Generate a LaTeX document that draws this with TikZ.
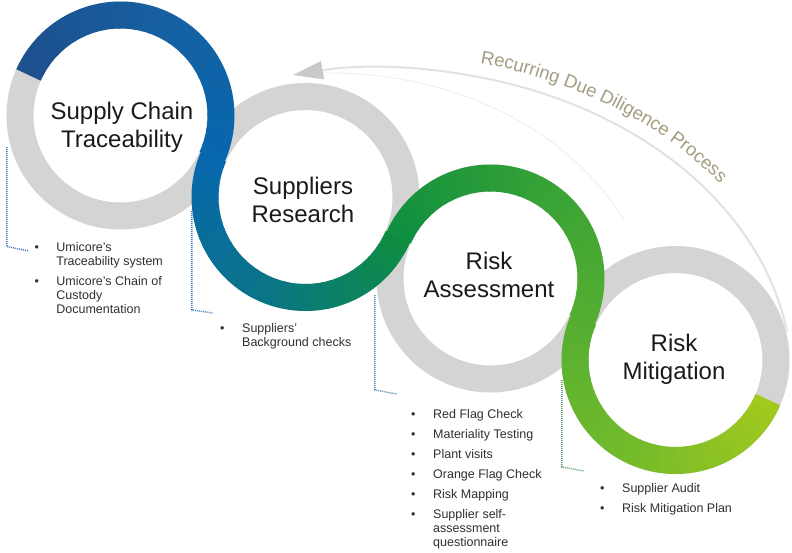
\documentclass[tikz,border=0pt]{standalone}
\usepackage{fontspec}
\setmainfont{Liberation Sans}
\usetikzlibrary{calc,decorations.text,arrows.meta}
\definecolor{ringgray}{HTML}{D4D4D4}
\definecolor{titlecol}{HTML}{1A1A1A}
\definecolor{listcol}{HTML}{303030}
\definecolor{rectext}{HTML}{A39D82}
\definecolor{faintA}{HTML}{E2E2E2}
\definecolor{faintB}{HTML}{EFEFEF}
\definecolor{arrowgray}{HTML}{C9C9C9}
\definecolor{connA}{HTML}{3F7BB8}
\definecolor{connB}{HTML}{3F7BB8}
\definecolor{connC}{HTML}{4F88AE}
\definecolor{connD}{HTML}{5F9A70}
\definecolor{q0}{HTML}{1D4F8C}
\definecolor{q1}{HTML}{1660A2}
\definecolor{q2}{HTML}{0867AE}
\definecolor{q3}{HTML}{0A7488}
\definecolor{q4}{HTML}{0E8E40}
\definecolor{q5}{HTML}{34A136}
\definecolor{q6}{HTML}{55AE31}
\definecolor{q7}{HTML}{74BB2B}
\definecolor{q8}{HTML}{A3C91E}
\newcommand\recfont{\fontsize{18.5}{20}\selectfont}
\begin{document}
\begin{tikzpicture}[x=1pt,y=-1pt,
  grayring/.style={draw=ringgray,line width=27pt},
  snakeseg/.style={line width=27pt},
  title/.style={font=\fontsize{24}{28}\selectfont, text=titlecol, align=center, anchor=north, inner sep=0pt},
  blist/.style={font=\fontsize{12.5}{14}\selectfont, text=listcol, anchor=north west, inner sep=0pt},
  conn/.style={line width=1.4pt, dash pattern=on 1pt off 1pt},
  hub/.style={circle, minimum size=228pt, inner sep=0pt}]
\fill[white] (0,0) rectangle (792,552);
\useasboundingbox (0,0) rectangle (792,552);

% hubs
\node[hub] (c1) at (120.5,115.5) {};
\node[hub] (c2) at (305.5,197) {};
\node[hub] (c3) at (490.5,278.5) {};
\node[hub] (c4) at (675.5,360) {};

% recurring arrow (faint lines)
\draw[line width=0.9pt, draw=faintB] (330,330) ++(268:325 and 257) arc[start angle=268, end angle=335, x radius=325, y radius=257];
\draw[line width=2pt, draw=faintA, -{Triangle[length=30pt,width=18pt,color=arrowgray]}] (380,380) ++(351:412 and 312) arc[start angle=351, end angle=257.8, x radius=412, y radius=312];
\path[decorate, decoration={text along path, text color=rectext, text={|\recfont|Recurring Due Diligence Process}}] (380,380) ++(283.6:426 and 326) arc[start angle=283.6, end angle=340, x radius=426, y radius=326];

% gray rings
\foreach \c in {c1,c2,c3,c4} \draw[grayring] (\c.center) circle[radius=100.5];

% coloured snake
\foreach \c/\sa/\sd/\ca/\cb in {
 c1/203.78/1/q0/q1, c1/293.78/1/q1/q2,
 c2/203.78/-1/q2/q3, c2/113.78/-1/q3/q4,
 c3/203.78/1/q4/q5, c3/293.78/1/q5/q6,
 c4/203.78/-1/q6/q7, c4/113.78/-1/q7/q8}{
  \foreach \k in {0,...,17}{
    \pgfmathtruncatemacro\p{round(100*(\k+0.5)/18)}
    \pgfmathsetmacro\aa{\sa+(\sd)*5*\k}
    \pgfmathsetmacro\ab{\sa+(\sd)*(5*\k+5.6)}
    \draw[snakeseg, draw=\cb!\p!\ca] (\c.center) ++(\aa:100.5) arc[start angle=\aa, end angle=\ab, radius=100.5];
  }
}

% titles
\node[title] (t1) at (122,102) {Supply Chain\\Traceability};
\node[title] (t2) at (303,177) {Suppliers\\Research};
\node[title] (t3) at (489,252) {Risk\\Assessment};
\node[title] (t4) at (674,334) {Risk\\Mitigation};

% bullet lists
\node[blist] (l1) at (34.5,241.7) {\begin{tabular}{@{}p{21.7pt}@{}l@{}}\textbullet & Umicore's\\ & Traceability system\\[6pt] \textbullet & Umicore's Chain of\\ & Custody\\ & Documentation\end{tabular}};
\node[blist] (l2) at (220,322.2) {\begin{tabular}{@{}p{22pt}@{}l@{}}\textbullet & Suppliers'\\ & Background checks\end{tabular}};
\node[blist] (l3) at (411,408.7) {\begin{tabular}{@{}p{22pt}@{}l@{}}\textbullet & Red Flag Check\\[6pt] \textbullet & Materiality Testing\\[6pt] \textbullet & Plant visits\\[6pt] \textbullet & Orange Flag Check\\[6pt] \textbullet & Risk Mapping\\[6pt] \textbullet & Supplier self-\\ & assessment\\ & questionnaire\end{tabular}};
\node[blist] (l4) at (600,482.2) {\begin{tabular}{@{}p{22pt}@{}l@{}}\textbullet & Supplier Audit\\[6pt] \textbullet & Risk Mitigation Plan\end{tabular}};

% dotted connectors
\coordinate (s1) at ($(c1.west)+(0.5,31.5)$);
\coordinate (e1) at ($(l1.north west)+(-5.5,9.3)$);
\draw[conn, draw=connA] (s1) -- ++(0,99.5) -- (e1);
\coordinate (s2) at ($(c2.west)+(0.5,14)$);
\coordinate (e2) at ($(l2.north west)+(-7,-9.2)$);
\draw[conn, draw=connB] (s2) -- ++(0,99) -- (e2);
\coordinate (s3) at ($(c3.west)+(-1.5,16.5)$);
\coordinate (e3) at ($(l3.north west)+(-14,-14.7)$);
\draw[conn, draw=connC] (s3) -- ++(0,95) -- (e3);
\coordinate (s4) at ($(c4.west)+(0.5,20)$);
\coordinate (e4) at ($(l4.north west)+(-16,-11.2)$);
\draw[conn, draw=connD] (s4) -- ++(0,87) -- (e4);
\end{tikzpicture}
\end{document}
